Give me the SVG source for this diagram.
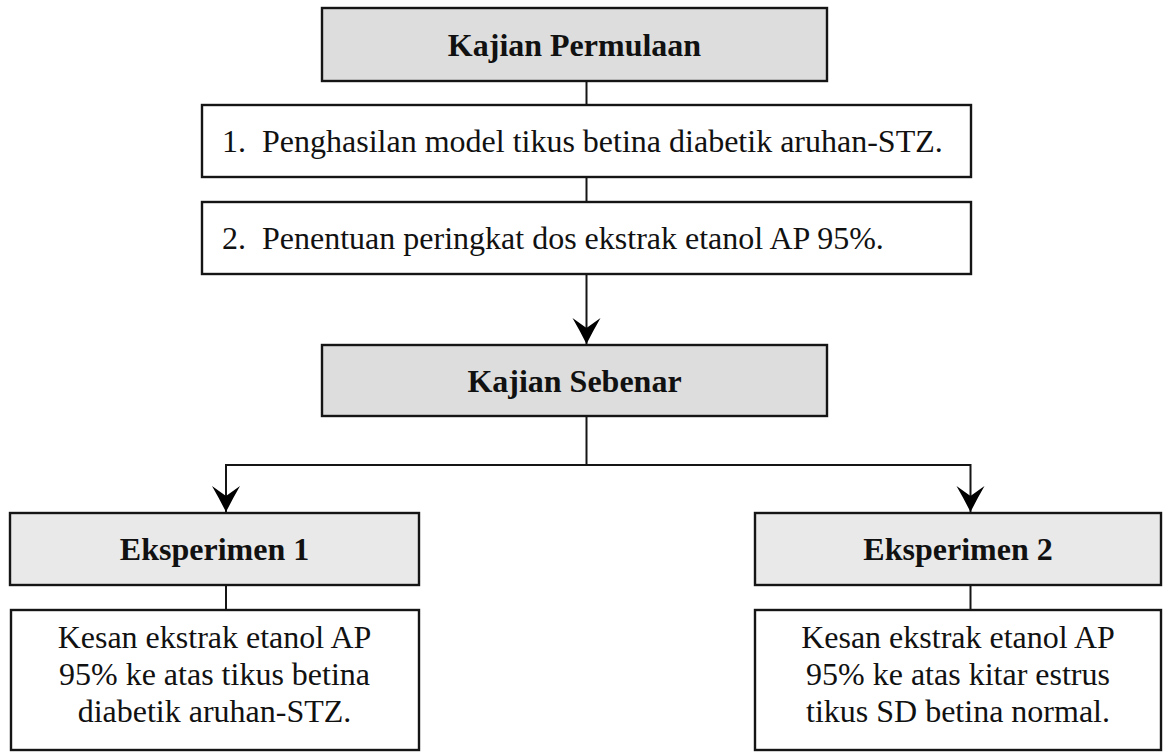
<svg xmlns="http://www.w3.org/2000/svg" width="1163" height="752" viewBox="0 0 1163 752">
<defs>
<style>
.box{stroke:#151515;stroke-width:2.4;}
.head{fill:#dddddd;}
.head2{fill:#e9e9e9;}
.plain{fill:#ffffff;}
text{font-family:'Liberation Serif','Times New Roman',Times,serif;fill:#111;}
.ht{font-weight:bold;font-size:32px;text-anchor:middle;}
.lt{font-size:32px;}
.bt{font-size:32px;text-anchor:middle;}
.conn{stroke:#151515;stroke-width:2;fill:none;}
</style>
<marker id="arr" markerUnits="userSpaceOnUse" markerWidth="32" markerHeight="32" viewBox="-28 -16 32 32" refX="0" refY="0" orient="auto-start-reverse">
<path d="M0 0 Q-13 -6.5 -26 -14 L-16 0 L-26 14 Q-13 6.5 0 0 Z" fill="#000"/>
</marker>
</defs>
<rect width="1163" height="752" fill="#ffffff"/>
<g id="connectors">
<line class="conn" x1="586.5" y1="81" x2="586.5" y2="105"/>
<line class="conn" x1="586.5" y1="177" x2="586.5" y2="202"/>
<line class="conn" x1="586.5" y1="274" x2="586.5" y2="344" marker-end="url(#arr)"/>
<line class="conn" x1="586.5" y1="416" x2="586.5" y2="465"/>
<polyline class="conn" points="226,512 226,465 970.5,465 970.5,512" marker-start="url(#arr)" marker-end="url(#arr)"/>
<line class="conn" x1="226" y1="585" x2="226" y2="610"/>
<line class="conn" x1="970.5" y1="585" x2="970.5" y2="610"/>
</g>
<g id="kajian-permulaan">
<rect class="box head" x="322" y="8" width="505" height="73"/>
<text class="ht" x="574.5" y="56">Kajian Permulaan</text>
</g>
<g id="langkah-1">
<rect class="box plain" x="202" y="105" width="769" height="72"/>
<text class="lt" y="152"><tspan x="222">1.</tspan><tspan x="262">Penghasilan model tikus betina diabetik aruhan-STZ.</tspan></text>
</g>
<g id="langkah-2">
<rect class="box plain" x="202" y="202" width="769" height="72"/>
<text class="lt" y="249"><tspan x="222">2.</tspan><tspan x="262">Penentuan peringkat dos ekstrak etanol AP 95%.</tspan></text>
</g>
<g id="kajian-sebenar">
<rect class="box head" x="322" y="345" width="505" height="71"/>
<text class="ht" x="574.5" y="392">Kajian Sebenar</text>
</g>
<g id="eksperimen-1">
<rect class="box head2" x="10" y="513" width="409" height="72"/>
<text class="ht" x="214.5" y="560">Eksperimen 1</text>
</g>
<g id="eksperimen-2">
<rect class="box head2" x="755" y="513" width="406" height="72"/>
<text class="ht" x="958" y="560">Eksperimen 2</text>
</g>
<g id="kesan-1">
<rect class="box plain" x="11" y="610" width="408" height="140"/>
<text class="bt" x="214.5" y="648">Kesan ekstrak etanol AP</text>
<text class="bt" x="214.5" y="685">95% ke atas tikus betina</text>
<text class="bt" x="214.5" y="722">diabetik aruhan-STZ.</text>
</g>
<g id="kesan-2">
<rect class="box plain" x="755" y="610" width="406" height="140"/>
<text class="bt" x="958" y="648">Kesan ekstrak etanol AP</text>
<text class="bt" x="958" y="685">95% ke atas kitar estrus</text>
<text class="bt" x="958" y="722">tikus SD betina normal.</text>
</g>
</svg>
